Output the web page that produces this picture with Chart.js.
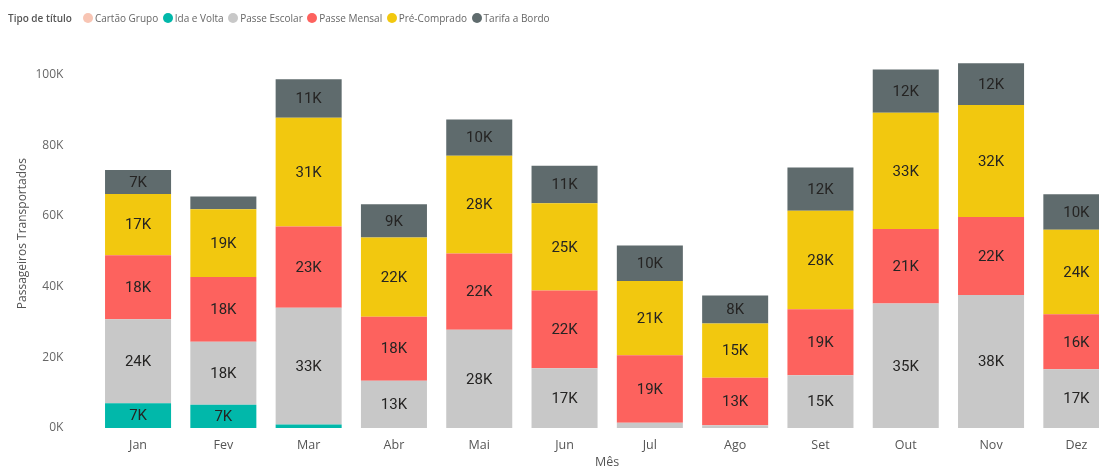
<!DOCTYPE html>
<html>
<head>
<meta charset="utf-8">
<script src="https://cdn.jsdelivr.net/npm/chart.js@4/dist/chart.umd.min.js"></script>
<style>
  html, body { margin: 0; padding: 0; background: #fff; overflow: hidden; width: 1099px; height: 468px; }
  #wrap { position: absolute; left: 0; top: 0; width: 1130px; height: 472px; }
  #legend { position: absolute; left: 8px; top: 11px; font-family: "Open Sans", "Noto Sans", sans-serif; font-size: 10px; color: #666; display: flex; align-items: center; white-space: nowrap; z-index: 2; }
  #legend .ttl { color: #555; font-weight: 600; margin-right: 11px; }
  #legend .item { display: flex; align-items: center; margin-right: 4.5px; }
  #legend .dot { width: 10px; height: 10px; border-radius: 50%; margin-right: 2px; }
</style>
</head>
<body>
<div id="wrap">
  <div id="legend"></div>
  <canvas id="c" width="1130" height="472"></canvas>
</div>
<script>
const legendTitle = "Tipo de título";
const months = ["Jan","Fev","Mar","Abr","Mai","Jun","Jul","Ago","Set","Out","Nov","Dez"];
const seriesNames = ["Cartão Grupo","Ida e Volta","Passe Escolar","Passe Mensal","Pré-Comprado","Tarifa a Bordo"];
const seriesColors = ["#F8C5B4","#01B8AA","#C8C8C8","#FD625E","#F2C80F","#5F6B6D"];
const cartaoGrupo  = [0,0,0,0,0,0,0,0,0,0,0,0];
const idaEVolta    = [7000,6600,1000,0,0,0,0,0,0,0,0,0];
const passeEscolar = [23800,17800,33000,13400,27800,16900,1500,800,14900,35200,37600,16600];
const passeMensal  = [18100,18300,23000,18100,21600,22000,19100,13400,18700,21100,22100,15600];
const preComprado  = [17300,19200,30800,22400,27600,24700,21000,15400,27900,32900,31700,23900];
const tarifaBordo  = [6800,3600,10900,9400,10300,10600,10000,7900,12200,12200,11800,10000];
const yTicks = [0,20000,40000,60000,80000,100000];
const yAxisTitle = "Passageiros Transportados";
const xAxisTitle = "Mês";

const seriesData = [cartaoGrupo, idaEVolta, passeEscolar, passeMensal, preComprado, tarifaBordo];

// HTML legend
const lg = document.getElementById('legend');
const t = document.createElement('span'); t.className = 'ttl'; t.textContent = legendTitle; lg.appendChild(t);
seriesNames.forEach((n, i) => {
  const it = document.createElement('span'); it.className = 'item';
  const d = document.createElement('span'); d.className = 'dot'; d.style.background = seriesColors[i];
  const tx = document.createElement('span'); tx.textContent = n;
  it.appendChild(d); it.appendChild(tx); lg.appendChild(it);
});

const fmtK = v => Math.round(v / 1000) + 'K';

const labelPlugin = {
  id: 'segLabels',
  afterDatasetsDraw(chart) {
    const ctx = chart.ctx;
    ctx.save();
    ctx.font = '15px Roboto, "DejaVu Sans", sans-serif';
    ctx.fillStyle = '#252423';
    ctx.textAlign = 'center';
    ctx.textBaseline = 'middle';
    chart.data.datasets.forEach((ds, di) => {
      const meta = chart.getDatasetMeta(di);
      meta.data.forEach((bar, i) => {
        const v = ds.data[i];
        if (!v) return;
        const h = Math.abs(bar.base - bar.y);
        if (h < 18) return;
        ctx.fillText(fmtK(v), bar.x, (bar.y + bar.base) / 2 + 1);
      });
    });
    ctx.restore();
  }
};

new Chart(document.getElementById('c'), {
  type: 'bar',
  data: {
    labels: months,
    datasets: seriesNames.map((n, i) => ({
      label: n,
      data: seriesData[i],
      backgroundColor: seriesColors[i],
      borderWidth: 0,
      barPercentage: 0.774,
      categoryPercentage: 1.0
    }))
  },
  options: {
    responsive: false,
    animation: false,
    devicePixelRatio: 1,
    layout: { padding: { left: 0, right: 11, top: 39, bottom: 0 } },
    plugins: { legend: { display: false }, tooltip: { enabled: false } },
    scales: {
      x: {
        stacked: true,
        grid: { display: false, drawTicks: false },
        border: { display: false },
        ticks: { color: '#555', font: { family: '"Open Sans", sans-serif', size: 12.5 }, padding: 10, maxRotation: 0 },
        title: { display: true, text: xAxisTitle, color: '#555', font: { family: '"Open Sans", sans-serif', size: 12.5 }, padding: { top: 0, bottom: 2 } },
        afterFit(scale) { scale.height = 44; }
      },
      y: {
        stacked: true,
        min: 0,
        max: 110000,
        grid: { display: false, drawTicks: false },
        border: { display: false },
        afterBuildTicks(scale) { scale.ticks = yTicks.map(v => ({ value: v })); },
        ticks: { color: '#666', font: { family: '"Open Sans", sans-serif', size: 12 }, padding: 32, callback: v => fmtK(v) },
        title: { display: true, text: yAxisTitle, color: '#555', font: { family: '"Open Sans", sans-serif', size: 12 }, padding: { top: 15, bottom: 0 } },
        afterFit(scale) { scale.width = 95.4; }
      }
    }
  },
  plugins: [labelPlugin]
});
</script>
</body>
</html>
